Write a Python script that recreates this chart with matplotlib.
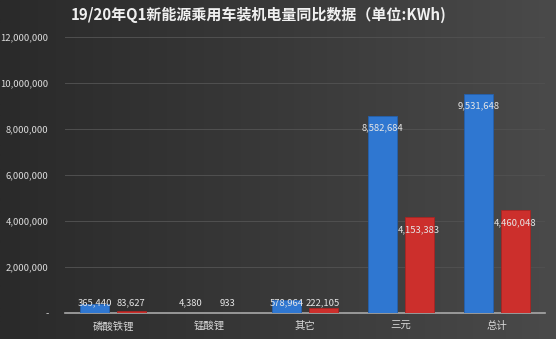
import numpy as np
import matplotlib
matplotlib.use("Agg")
import matplotlib.pyplot as plt
from matplotlib.colors import LinearSegmentedColormap
from matplotlib.ticker import FuncFormatter

plt.rcParams['font.family'] = ['Noto Sans CJK SC', 'DejaVu Sans']

# 装机电量 (KWh)
categories = ['磷酸铁锂', '锰酸锂', '其它', '三元', '总计']
q1_2019 = [365440, 4380, 578964, 8582684, 9531648]
q1_2020 = [83627, 933, 222105, 4153383, 4460048]
title = '19/20年Q1新能源乘用车装机电量同比数据（单位:KWh)'

fig = plt.figure(figsize=(5.56, 3.39), dpi=100)

# dark gradient background
bg = fig.add_axes([0, 0, 1, 1], zorder=-10)
grad = np.linspace(0, 1, 256).reshape(1, -1)
cmap = LinearSegmentedColormap.from_list('bg', ['#2a2a2a', '#393939', '#4a4a4a'])
bg.imshow(grad, aspect='auto', cmap=cmap, extent=[0, 1, 0, 1])
bg.axis('off')

ax = fig.add_axes([0.117, 0.077, 0.863, 0.814])
ax.patch.set_alpha(0)

x = np.arange(len(categories))
w = 0.30
off = 0.19
ax.bar(x - off, q1_2019, w, color='#2f77d1', edgecolor='#2460ad', linewidth=0.6, zorder=3)
ax.bar(x + off, q1_2020, w, color='#cc2f2c', edgecolor='#a82422', linewidth=0.6, zorder=3)

# value labels: inside the top for tall bars, just above the axis for short ones
for xs, vals in ((x - off, q1_2019), (x + off, q1_2020)):
    for xi, v in zip(xs, vals):
        ly = max(v - 530000, 430000)
        ax.text(xi, ly, f'{v:,}', ha='center', va='center',
                color='#e6e6e6', fontsize=6.8, zorder=4)

ax.set_xlim(-0.5, len(categories) - 0.5)
ax.set_ylim(0, 12000000)
ax.set_yticks(np.arange(0, 12000001, 2000000))
ax.yaxis.set_major_formatter(FuncFormatter(lambda v, p: '-' if v == 0 else f'{int(v):,}'))
ax.set_xticks(x)
ax.set_xticklabels(categories)
ax.tick_params(axis='y', length=0, pad=12, labelsize=6.8, labelcolor='#dcdcdc')
ax.tick_params(axis='x', length=0, pad=6, labelsize=7.5, labelcolor='#d8d8d8')

ax.grid(axis='y', color='#505050', linewidth=0.7, zorder=0)
for s in ('top', 'right', 'left'):
    ax.spines[s].set_visible(False)
ax.spines['bottom'].set_color('#a8a8a8')
ax.spines['bottom'].set_linewidth(1.2)

fig.text(0.466, 0.955, title, ha='center', va='center', color='#f0f0f0',
         fontsize=10.8, fontweight='bold')

fig.savefig('out.png', dpi=100)
